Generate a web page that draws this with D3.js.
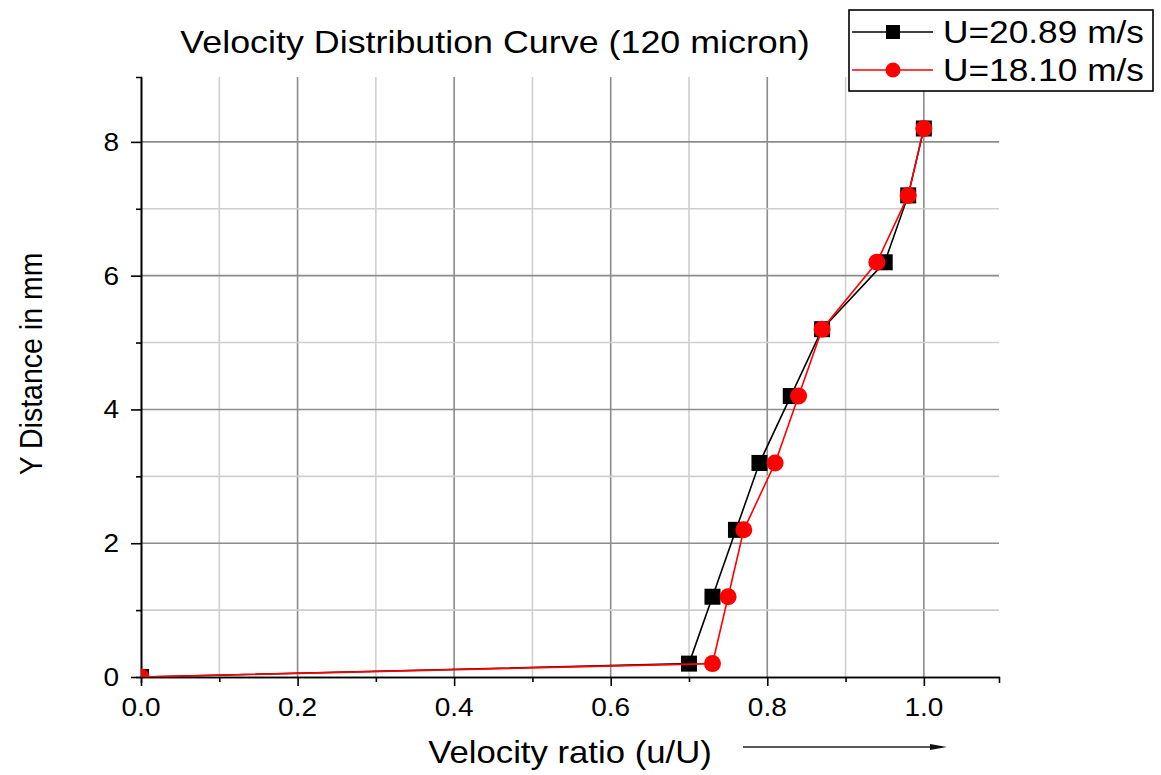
<!DOCTYPE html>
<html>
<head>
<meta charset="utf-8">
<script src="https://cdn.jsdelivr.net/npm/d3@7"></script>
<style>
  html, body { margin: 0; padding: 0; background: #fff; }
  svg { display: block; }
  text { font-family: "Liberation Sans", Arial, sans-serif; fill: #000; }
</style>
</head>
<body>
<svg id="chart" width="1161" height="775"></svg>
<script>
// ---- data ----
const seriesNames = ["U=20.89 m/s", "U=18.10 m/s"];
const yDistance = [0, 0.2, 1.2, 2.2, 3.2, 4.2, 5.2, 6.2, 7.2, 8.2];
const ratioU2089 = [0, 0.70, 0.73, 0.76, 0.79, 0.83, 0.87, 0.95, 0.98, 1.0];
const ratioU1810 = [0, 0.73, 0.75, 0.77, 0.81, 0.84, 0.87, 0.94, 0.98, 1.0];
const xTickLabels = ["0.0", "0.2", "0.4", "0.6", "0.8", "1.0"];
const yTickLabels = ["0", "2", "4", "6", "8"];
const titleText = "Velocity Distribution Curve (120 micron)";
const xTitle = "Velocity ratio (u/U)";
const yTitle = "Y Distance in mm";

// ---- layout ----
const L = 141, R = 999, T = 77, B = 677;
const STRETCH = 1.12;
const svg = d3.select("#chart");

const x = d3.scaleLinear().domain([0, 1.096]).range([L, R]);
const y = d3.scaleLinear().domain([0, 8.97]).range([B, T]);

const xMajor = xTickLabels.map(Number);
const xMinor = d3.range(1, 11, 2).map(v => v / 10);
const yMajor = yTickLabels.map(Number);
const yMinor = [1, 3, 5, 7];

function stretchedText(g, tx, ty, str, size, anchor, rot) {
  const gg = g.append("g")
    .attr("transform", `translate(${tx},${ty}) scale(${STRETCH},1)` + (rot ? ` rotate(${rot})` : ""));
  gg.append("text").attr("x", 0).attr("y", 0)
    .attr("font-size", size).attr("text-anchor", anchor).text(str);
  return gg;
}

// ---- grid ----
const grid = svg.append("g");
xMinor.forEach(v => grid.append("line")
  .attr("x1", x(v)).attr("x2", x(v)).attr("y1", T).attr("y2", B)
  .attr("stroke", "#cfcfcf").attr("stroke-width", 1.6));
xMajor.filter(v => v > 0).forEach(v => grid.append("line")
  .attr("x1", x(v)).attr("x2", x(v)).attr("y1", T).attr("y2", B)
  .attr("stroke", "#8c8c8c").attr("stroke-width", 1.6));
yMinor.forEach(v => grid.append("line")
  .attr("x1", L).attr("x2", R).attr("y1", y(v)).attr("y2", y(v))
  .attr("stroke", "#cfcfcf").attr("stroke-width", 1.6));
yMajor.filter(v => v > 0).forEach(v => grid.append("line")
  .attr("x1", L).attr("x2", R).attr("y1", y(v)).attr("y2", y(v))
  .attr("stroke", "#8c8c8c").attr("stroke-width", 1.6));

// ---- axes ----
const xAxisMinor = d3.axisBottom(x).tickValues(xMinor).tickSize(5).tickSizeOuter(0).tickFormat("");
const xAxisMajor = d3.axisBottom(x).tickValues(xMajor).tickSize(9).tickSizeOuter(6).tickFormat("");
const yAxisMinor = d3.axisLeft(y).tickValues(yMinor).tickSize(5).tickSizeOuter(0).tickFormat("");
const yAxisMajor = d3.axisLeft(y).tickValues(yMajor).tickSize(10).tickSizeOuter(5).tickFormat("");

function styleAxis(sel) {
  sel.selectAll("path, line").attr("stroke", "#000").attr("stroke-width", 1.6);
}
svg.append("g").attr("transform", `translate(0,${B})`).call(xAxisMinor).call(styleAxis);
svg.append("g").attr("transform", `translate(0,${B})`).call(xAxisMajor).call(styleAxis);
svg.append("g").attr("transform", `translate(${L},0)`).call(yAxisMinor).call(styleAxis);
svg.append("g").attr("transform", `translate(${L},0)`).call(yAxisMajor).call(styleAxis);

// tick labels
const labels = svg.append("g");
xMajor.forEach((v, i) => stretchedText(labels, x(v), 716, xTickLabels[i], 25, "middle"));
yMajor.forEach((v, i) => stretchedText(labels, 119, y(v) + 9, yTickLabels[i], 25, "end"));

// ---- series ----
svg.append("defs").append("clipPath").attr("id", "plotclip")
  .append("rect").attr("x", L).attr("y", T - 20).attr("width", R - L + 20).attr("height", B - T + 20);

const plot = svg.append("g").attr("clip-path", "url(#plotclip)");
const line = d3.line().x(d => x(d[0])).y(d => y(d[1]));

const blackPts = ratioU2089.map((v, i) => [v, yDistance[i]]);
const redPts = ratioU1810.map((v, i) => [v, yDistance[i]]);

plot.append("path").datum(blackPts).attr("d", line)
  .attr("fill", "none").attr("stroke", "#000").attr("stroke-width", 1.6);
plot.selectAll(".sq").data(blackPts).enter().append("rect")
  .attr("x", d => x(d[0]) - 8).attr("y", d => y(d[1]) - 8)
  .attr("width", 16).attr("height", 16).attr("fill", "#000");

plot.append("path").datum(redPts).attr("d", line)
  .attr("fill", "none").attr("stroke", "#ff0000").attr("stroke-width", 1.6);
plot.selectAll(".ci").data(redPts).enter().append("circle")
  .attr("cx", d => x(d[0])).attr("cy", d => y(d[1])).attr("r", 8.5)
  .attr("fill", "#ff0000");

// ---- titles ----
stretchedText(svg, 495, 53, titleText, 32, "middle");
stretchedText(svg, 570, 763, xTitle, 31, "middle");
stretchedText(svg, 42, 364, yTitle, 28.5, "middle", -90);

// arrow
svg.append("line").attr("x1", 743).attr("x2", 934).attr("y1", 747).attr("y2", 747)
  .attr("stroke", "#222").attr("stroke-width", 1.6);
svg.append("path").attr("d", "M930,744 L947,747 L930,750 Z").attr("fill", "#111");

// ---- legend ----
const lg = svg.append("g");
lg.append("rect").attr("x", 849).attr("y", 10).attr("width", 304).attr("height", 81)
  .attr("fill", "#fff").attr("stroke", "#000").attr("stroke-width", 1.6);
const rows = [32, 70];
const colors = ["#000", "#ff0000"];
rows.forEach((ry, i) => {
  lg.append("line").attr("x1", 852).attr("x2", 933).attr("y1", ry).attr("y2", ry)
    .attr("stroke", colors[i]).attr("stroke-width", 1.6);
  if (i === 0) {
    lg.append("rect").attr("x", 893 - 7).attr("y", ry - 7).attr("width", 14).attr("height", 14).attr("fill", "#000");
  } else {
    lg.append("circle").attr("cx", 893).attr("cy", ry).attr("r", 7.5).attr("fill", "#ff0000");
  }
  stretchedText(lg, 943, ry + 11, seriesNames[i], 31.5, "start");
});
</script>
</body>
</html>
